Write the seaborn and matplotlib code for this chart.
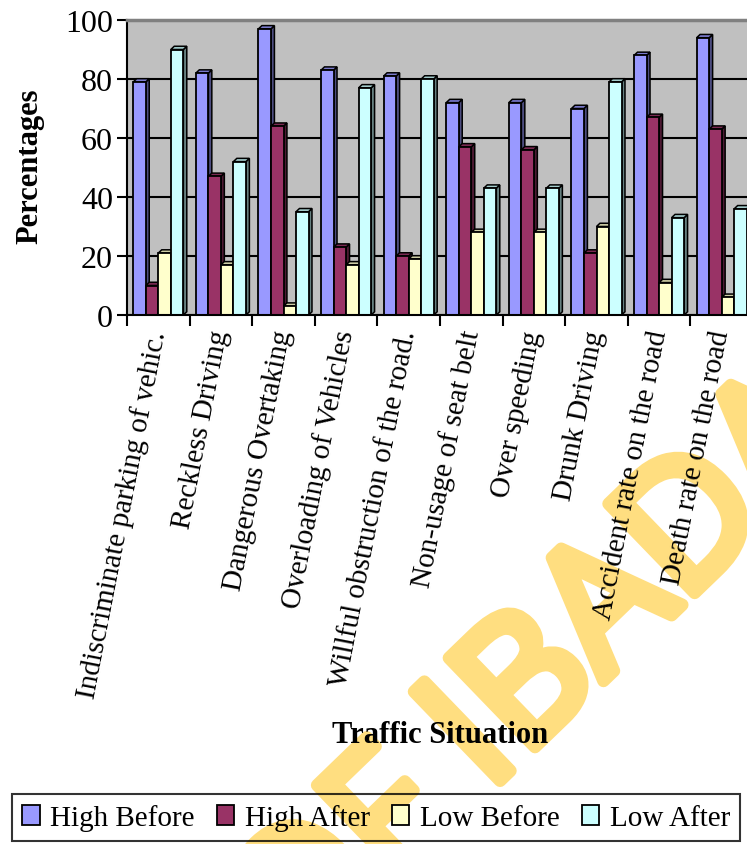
import numpy as np
import pandas as pd
import seaborn as sns
import matplotlib.pyplot as plt
from matplotlib.patches import Polygon, Patch
from matplotlib import patheffects as pe

# Survey results: share of respondents (%) per traffic situation
categories = [
    "Indiscriminate parking of vehic.",
    "Reckless Driving",
    "Dangerous Overtaking",
    "Overloading of Vehicles",
    "Willful obstruction of the road.",
    "Non-usage of seat belt",
    "Over speeding",
    "Drunk Driving",
    "Accident rate on the road",
    "Death rate on the road",
]
high_before = [79, 82, 97, 83, 81, 72, 72, 70, 88, 94]
high_after = [10, 47, 64, 23, 20, 57, 56, 21, 67, 63]
low_before = [21, 17, 3, 17, 19, 28, 28, 30, 11, 6]
low_after = [90, 52, 35, 77, 80, 43, 43, 79, 33, 36]
series_names = ["High Before", "High After", "Low Before", "Low After"]
y_ticks = [0, 20, 40, 60, 80, 100]

front_colors = ["#9999FF", "#993366", "#FFFFCC", "#CCFFFF"]
side_colors = ["#4D4D80", "#4D1A33", "#808066", "#668080"]
top_colors = ["#7A7ACC", "#7A2952", "#CCCCA3", "#A3CCCC"]

df = pd.DataFrame({
    "Situation": categories,
    "High Before": high_before,
    "High After": high_after,
    "Low Before": low_before,
    "Low After": low_after,
}).melt(id_vars="Situation", var_name="Series", value_name="Percent")

sns.set_theme(style="white")
plt.rcParams["font.family"] = ["Liberation Serif", "DejaVu Serif"]
plt.rcParams.update({
    "text.color": "black",
    "axes.labelcolor": "black",
    "xtick.color": "black",
    "ytick.color": "black",
})

W, H = 747, 845
fig = plt.figure(figsize=(W / 100, H / 100), dpi=100)
fig.patch.set_facecolor("white")

ax_left, ax_right, ax_top, ax_bottom = 127, 753, 21, 316
ax = fig.add_axes([ax_left / W, (H - ax_bottom) / H,
                   (ax_right - ax_left) / W, (ax_bottom - ax_top) / H])

sns.barplot(data=df, x="Situation", y="Percent", hue="Series",
            order=categories, hue_order=series_names, palette=front_colors,
            saturation=1, edgecolor="black", linewidth=1.3, width=0.8,
            ax=ax, legend=False)

# Pseudo-3D: side and top faces on every column
dx, dy = 0.055, 1.1
for i, cont in enumerate(ax.containers):
    z = 2 + i * 0.1
    for bar in cont:
        x, w, h = bar.get_x(), bar.get_width(), bar.get_height()
        bar.set_zorder(z + 0.02)
        side = Polygon([(x + w, 0), (x + w + dx, dy), (x + w + dx, h + dy), (x + w, h)],
                       closed=True, facecolor=side_colors[i], edgecolor="black",
                       linewidth=1.1, zorder=z)
        top = Polygon([(x, h), (x + dx, h + dy), (x + w + dx, h + dy), (x + w, h)],
                      closed=True, facecolor=top_colors[i], edgecolor="black",
                      linewidth=1.1, zorder=z + 0.01)
        ax.add_patch(side)
        ax.add_patch(top)

ax.set_facecolor("#C0C0C0")
ax.set_xlim(-0.5, len(categories) - 0.5)
ax.set_ylim(0, 100)
ax.set_yticks(y_ticks)
ax.yaxis.grid(True, color="black", linewidth=1.5)
ax.xaxis.grid(False)
ax.set_axisbelow(True)
ax.set_xlabel("")
ax.set_ylabel("")

ax.set_xticks(range(len(categories)))
ax.set_xticklabels(categories, rotation=79, ha="right", va="center",
                   rotation_mode="anchor", fontsize=21)
ax.set_xticks(np.arange(-0.5, len(categories), 1), minor=True)
ax.tick_params(axis="x", which="major", length=0, pad=11)
ax.tick_params(axis="x", which="minor", length=8, width=1.5, direction="out",
               color="black", bottom=True)
ax.tick_params(axis="y", length=7, width=1.5, direction="out", color="black",
               labelsize=23, pad=3, left=True)

for s in ["left", "bottom"]:
    ax.spines[s].set_color("black")
    ax.spines[s].set_linewidth(1.5)
ax.spines["top"].set_color("#808080")
ax.spines["top"].set_linewidth(2.5)
ax.spines["right"].set_visible(False)

fig.text(30 / W, 1 - 166 / H, "Percentages", rotation=90, ha="center", va="center",
         fontsize=22, fontweight="bold")
fig.text(440 / W, 1 - 736 / H, "Traffic Situation", ha="center", va="center",
         fontsize=22, fontweight="bold", zorder=3)

handles = [Patch(facecolor=c, edgecolor="black", linewidth=1.3) for c in front_colors]
leg = fig.legend(handles, series_names, loc="upper left", ncol=4, mode="expand",
                 bbox_to_anchor=(12 / W, 0.0, 728 / W, (H - 795) / H),
                 fontsize=21, frameon=True, fancybox=False, handlelength=0.6,
                 handleheight=0.7, handletextpad=0.35, columnspacing=0.5,
                 borderpad=0.35, borderaxespad=0)
leg.get_frame().set_edgecolor("black")
leg.get_frame().set_linewidth(1.5)
leg.get_frame().set_facecolor("none")
leg.set_zorder(5)

# Library stamp behind the chart
wm_color = "#FFDE80"
fig.text(620 / W, 1 - 666 / H, "OF IBADAN", rotation=44, rotation_mode="anchor",
         ha="center", va="baseline", fontsize=125,
         family=["Liberation Sans Narrow", "DejaVu Sans Condensed", "Open Sans"],
         color=wm_color, zorder=-1,
         path_effects=[pe.withStroke(linewidth=9, foreground=wm_color,
                                     capstyle="round", joinstyle="round")])

fig.savefig("out.png", dpi=100)
